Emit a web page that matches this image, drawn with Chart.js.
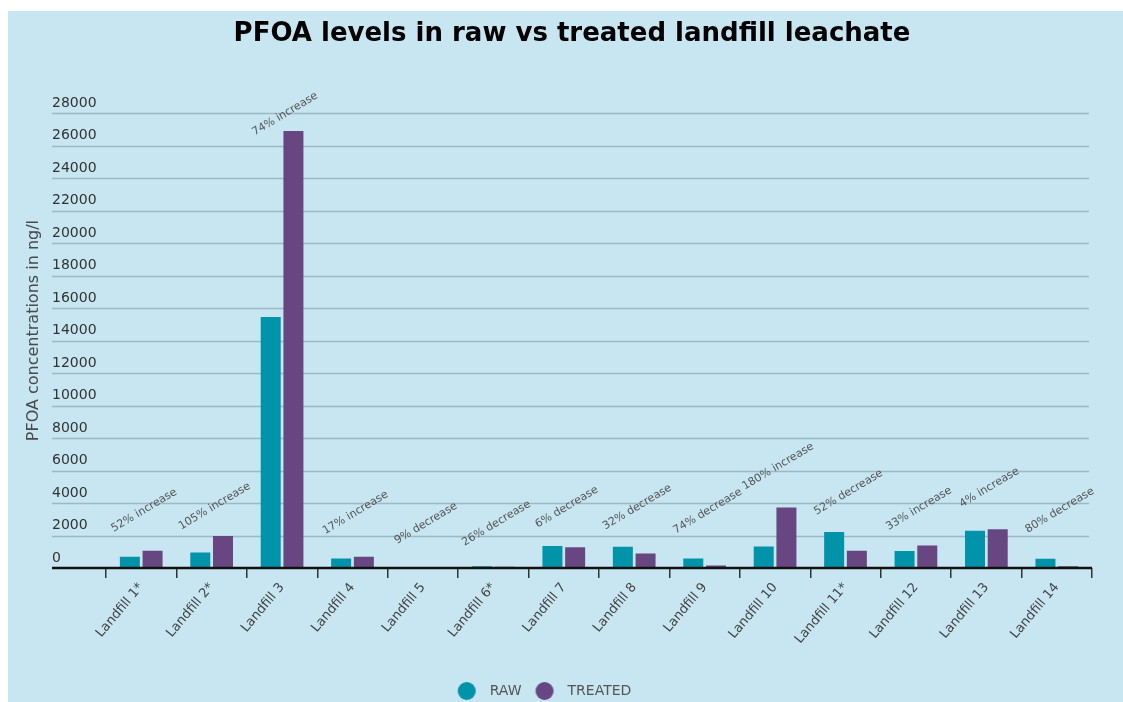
<!DOCTYPE html>
<html>
<head>
<meta charset="utf-8">
<script src="https://cdn.jsdelivr.net/npm/chart.js@4.4.1/dist/chart.umd.min.js"></script>
<style>
    html, body { margin: 0; padding: 0; background: #ffffff; }
    .panel {
        position: absolute;
        left: 8px;
        top: 11px;
        width: 1115px;
        height: 691px;
        background: #c7e6f1;
    }
</style>
</head>
<body>
<div class="panel">
    <canvas id="leachateChart" width="1115" height="691"></canvas>
</div>
<script>
// ==================== Data ====================
const categories = ['Landfill 1*', 'Landfill 2*', 'Landfill 3', 'Landfill 4', 'Landfill 5', 'Landfill 6*', 'Landfill 7',
    'Landfill 8', 'Landfill 9', 'Landfill 10', 'Landfill 11*', 'Landfill 12', 'Landfill 13', 'Landfill 14'];
const rawValues = [700, 960, 15450, 590, 30, 110, 1350, 1310, 580, 1330, 2210, 1045, 2290, 570];
const treatedValues = [1060, 1970, 26900, 690, 27, 81, 1270, 890, 150, 3720, 1060, 1390, 2380, 115];
const changeNotes = ['52% increase', '105% increase', '74% increase', '17% increase', '9% decrease', '26% decrease',
    '6% decrease', '32% decrease', '74% decrease', '180% increase', '52% decrease', '33% increase', '4% increase', '80% decrease'];
// value level (ng/l) at which each note sits
const noteLevels = [3550, 3800, 27950, 3400, 2750, 2750, 3750, 3750, 3500, 6250, 4650, 3650, 4950, 3550];
const yMax = 28000;
const yStep = 2000;

const FONT = "'DejaVu Sans', sans-serif";
const RAW_COLOR = '#0093a9';
const TREATED_COLOR = '#674682';

// legend dot: circle sits left of the image centre so the label gets more room
function makeDot(color) {
    const c = document.createElement('canvas');
    c.width = 40;
    c.height = 20;
    const g = c.getContext('2d');
    g.fillStyle = color;
    g.beginPath();
    g.arc(11, 10, 9, 0, Math.PI * 2);
    g.fill();
    return c;
}
const legendDots = [makeDot(RAW_COLOR), makeDot(TREATED_COLOR)];

// ==================== Plugins ====================
// gridlines and x axis line run out under the tick labels
const gridPlugin = {
    id: 'leftGrid',
    afterLayout(chart) {
        // nudge legend a bit left, like the original
        chart.legend.left -= 22;
        chart.legend.right -= 22;
    },
    beforeDatasetsDraw(chart) {
        const { ctx, chartArea, scales: { y } } = chart;
        const startX = 44;
        ctx.save();
        ctx.strokeStyle = '#9cb9c5';
        ctx.lineWidth = 1.5;
        y.ticks.forEach(t => {
            if (t.value === 0) return;
            const py = Math.round(y.getPixelForValue(t.value)) + 0.5;
            ctx.beginPath();
            ctx.moveTo(startX, py);
            ctx.lineTo(chartArea.right - 3, py);
            ctx.stroke();
        });
        ctx.restore();
    },
    afterDatasetsDraw(chart) {
        const { ctx, chartArea, scales: { y } } = chart;
        const py = y.getPixelForValue(0);
        ctx.save();
        ctx.strokeStyle = '#111111';
        ctx.lineWidth = 2.5;
        ctx.beginPath();
        ctx.moveTo(44, py);
        ctx.lineTo(chartArea.right, py);
        ctx.stroke();
        ctx.restore();
    }
};

// rotated change notes above each landfill + y axis title
const notesPlugin = {
    id: 'changeNotes',
    afterDraw(chart) {
        const { ctx, chartArea, scales: { x, y } } = chart;
        ctx.save();
        ctx.fillStyle = '#555555';
        ctx.font = '11px ' + FONT;
        ctx.textAlign = 'center';
        ctx.textBaseline = 'middle';
        changeNotes.forEach((note, i) => {
            const px = x.getPixelForValue(i) + 3;
            const py = y.getPixelForValue(noteLevels[i]);
            ctx.save();
            ctx.translate(px, py);
            ctx.rotate(-31 * Math.PI / 180);
            ctx.fillText(note, 0, 0);
            ctx.restore();
        });

        ctx.fillStyle = '#4a4a4a';
        ctx.font = '16px ' + FONT;
        ctx.translate(26, (chartArea.top + chartArea.bottom) / 2 - 10);
        ctx.rotate(-Math.PI / 2);
        ctx.fillText('PFOA concentrations in ng/l', 0, 0);
        ctx.restore();
    }
};

// ==================== Chart ====================
const ctx = document.getElementById('leachateChart').getContext('2d');
const leachateChart = new Chart(ctx, {
    type: 'bar',
    data: {
        labels: categories,
        datasets: [{
            label: 'RAW',
            data: rawValues,
            backgroundColor: RAW_COLOR,
            categoryPercentage: 0.645,
            barPercentage: 0.88
        }, {
            label: 'TREATED',
            data: treatedValues,
            backgroundColor: TREATED_COLOR,
            categoryPercentage: 0.645,
            barPercentage: 0.88
        }]
    },
    options: {
        responsive: false,
        animation: false,
        layout: {
            padding: { left: 44, right: 31, top: 0, bottom: -6 }
        },
        plugins: {
            title: {
                display: true,
                text: 'PFOA levels in raw vs treated landfill leachate',
                color: '#000000',
                font: { family: FONT, size: 26, weight: 'bold' },
                padding: { top: 8, bottom: 63 }
            },
            legend: {
                position: 'bottom',
                labels: {
                    usePointStyle: true,
                    boxHeight: 13,
                    color: '#555555',
                    font: { family: FONT, size: 14 },
                    padding: 25,
                    generateLabels(chart) {
                        return Chart.defaults.plugins.legend.labels.generateLabels(chart)
                            .map((item, i) => ({ ...item, pointStyle: legendDots[i] }));
                    }
                }
            },
            tooltip: { enabled: false }
        },
        scales: {
            x: {
                grid: {
                    display: true,
                    drawOnChartArea: false,
                    drawTicks: true,
                    tickLength: 10,
                    color: '#333333',
                    lineWidth: 1.5
                },
                border: { display: false },
                ticks: {
                    color: '#444444',
                    font: { family: FONT, size: 13 },
                    maxRotation: 50,
                    minRotation: 50,
                    padding: 2
                },
                afterFit(scale) { scale.height = 91; }
            },
            y: {
                min: 0,
                max: yMax,
                grid: { display: false },
                border: { display: false },
                ticks: {
                    stepSize: yStep,
                    color: '#333333',
                    font: { family: FONT, size: 14 },
                    crossAlign: 'far',
                    labelOffset: -10,
                    padding: 0,
                    callback: v => String(v)
                },
                afterFit(scale) { scale.width = 54; }
            }
        }
    },
    plugins: [gridPlugin, notesPlugin]
});
</script>
</body>
</html>
